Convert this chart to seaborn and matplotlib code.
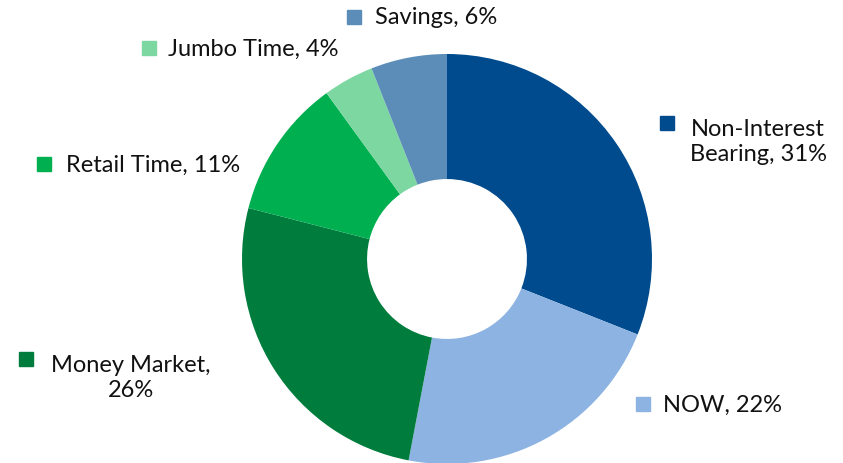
import matplotlib
matplotlib.use("Agg")
import matplotlib.pyplot as plt
from matplotlib.patches import Rectangle
import seaborn as sns

# DATA
categories = ["Non-Interest Bearing", "NOW", "Money Market", "Retail Time", "Jumbo Time", "Savings"]
label_text = ["Non-Interest\nBearing, 31%", "NOW, 22%", "Money Market,\n26%", "Retail Time, 11%", "Jumbo Time, 4%", "Savings, 6%"]
shares = [31, 22, 26, 11, 4, 6]
colors = ["#004B8D", "#8DB3E2", "#007D3D", "#00B050", "#7DD7A1", "#5B8DB8"]

sns.set_theme(style="white")
plt.rcParams["font.family"] = ["Lato", "DejaVu Sans"]

W, H = 843, 464
fig = plt.figure(figsize=(W / 100, H / 100), dpi=100)
cx, cy, r = 447, 260, 205
ax = fig.add_axes([(cx - r) / W, (H - cy - r) / H, 2 * r / W, 2 * r / H])
ax.pie(shares, colors=colors, startangle=90, counterclock=False, radius=1,
       wedgeprops=dict(width=0.61, linewidth=0))
ax.set_xlim(-1, 1)
ax.set_ylim(-1, 1)
ax.set_aspect("equal")
ax.axis("off")

# label layout: (marker x, marker y, text x, text y) in pixels
layout = [
    (660, 124, 758, 142, "center"),
    (636, 405, 663, 405, "left"),
    (19, 360, 131, 378, "center"),
    (37, 165, 66, 165, "left"),
    (142, 49, 168, 49, "left"),
    (347, 18, 375, 18, "left"),
]
for (mx, my, tx, ty, ha), txt, c in zip(layout, label_text, colors):
    fig.patches.append(Rectangle((mx / W, 1 - (my + 7) / H), 14 / W, 14 / H,
                                 transform=fig.transFigure, color=c))
    fig.text(tx / W, 1 - ty / H, txt, ha=ha, va="center", fontsize=17,
             color="#111111", linespacing=1.25, multialignment="center")

fig.savefig("out.png", dpi=100)
